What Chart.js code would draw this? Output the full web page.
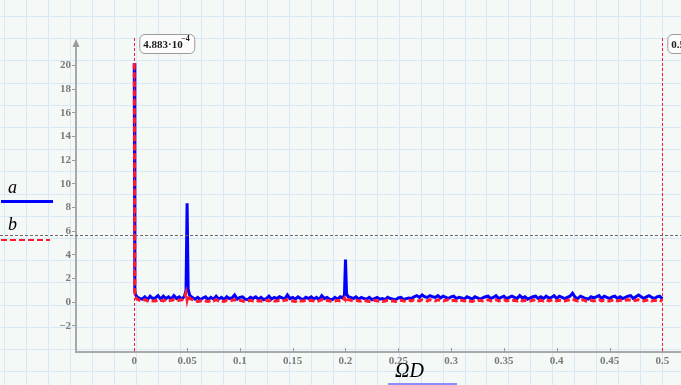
<!DOCTYPE html>
<html>
<head>
<meta charset="utf-8">
<script src="https://cdn.jsdelivr.net/npm/chart.js@4"></script>
<style>
  html, body { margin: 0; padding: 0; background: #f4f8f6; }
  #wrap { width: 681px; height: 385px; position: relative; }
</style>
</head>
<body>
<div id="wrap"><canvas id="chart"></canvas></div>
<script>
// frequency axis (ΩD)
const freq = [
  0, 0.0005, 0.001, 0.0025, 0.005, 0.0075, 0.01, 0.0125, 0.015, 0.0175,
  0.02, 0.0225, 0.025, 0.0275, 0.03, 0.0325, 0.035, 0.0375, 0.04, 0.0425,
  0.045, 0.0475, 0.049, 0.05, 0.051, 0.0525, 0.055, 0.0575, 0.06, 0.0625,
  0.065, 0.0675, 0.07, 0.0725, 0.075, 0.0775, 0.08, 0.0825, 0.085, 0.0875,
  0.09, 0.0925, 0.095, 0.0975, 0.1, 0.1025, 0.105, 0.1075, 0.11, 0.1125,
  0.115, 0.1175, 0.12, 0.1225, 0.125, 0.1275, 0.13, 0.1325, 0.135, 0.1375,
  0.14, 0.1425, 0.145, 0.1475, 0.15, 0.1525, 0.155, 0.1575, 0.16, 0.1625,
  0.165, 0.1675, 0.17, 0.1725, 0.175, 0.1775, 0.18, 0.1825, 0.185, 0.1875,
  0.19, 0.1925, 0.195, 0.1975, 0.199, 0.2, 0.201, 0.2025, 0.205, 0.2075,
  0.21, 0.2125, 0.215, 0.2175, 0.22, 0.2225, 0.225, 0.2275, 0.23, 0.2325,
  0.235, 0.2375, 0.24, 0.2425, 0.245, 0.2475, 0.25, 0.2525, 0.255, 0.2575,
  0.26, 0.2625, 0.265, 0.2675, 0.27, 0.2725, 0.275, 0.2775, 0.28, 0.2825,
  0.285, 0.2875, 0.29, 0.2925, 0.295, 0.2975, 0.3, 0.3025, 0.305, 0.3075,
  0.31, 0.3125, 0.315, 0.3175, 0.32, 0.3225, 0.325, 0.3275, 0.33, 0.3325,
  0.335, 0.3375, 0.34, 0.3425, 0.345, 0.3475, 0.35, 0.3525, 0.355, 0.3575,
  0.36, 0.3625, 0.365, 0.3675, 0.37, 0.3725, 0.375, 0.3775, 0.38, 0.3825,
  0.385, 0.3875, 0.39, 0.3925, 0.395, 0.3975, 0.4, 0.4025, 0.405, 0.4075,
  0.41, 0.4125, 0.415, 0.4175, 0.42, 0.4225, 0.425, 0.4275, 0.43, 0.4325,
  0.435, 0.4375, 0.44, 0.4425, 0.445, 0.4475, 0.45, 0.4525, 0.455, 0.4575,
  0.46, 0.4625, 0.465, 0.4675, 0.47, 0.4725, 0.475, 0.4775, 0.48, 0.4825,
  0.485, 0.4875, 0.49, 0.4925, 0.495, 0.4975, 0.5
];

// series a (blue, solid)
const aVals = [
  20.2, 1.0, 0.65, 0.45, 0.3, 0.25, 0.45, 0.2, 0.5, 0.3,
  0.35, 0.55, 0.25, 0.5, 0.3, 0.45, 0.25, 0.55, 0.3, 0.45,
  0.25, 0.5, 1.0, 8.35, 1.1, 0.55, 0.4, 0.25, 0.4, 0.2,
  0.35, 0.45, 0.2, 0.4, 0.25, 0.5, 0.25, 0.4, 0.2, 0.45,
  0.3, 0.35, 0.6, 0.25, 0.4, 0.45, 0.25, 0.2, 0.4, 0.3,
  0.45, 0.25, 0.4, 0.2, 0.3, 0.5, 0.25, 0.4, 0.3, 0.45,
  0.35, 0.25, 0.6, 0.3, 0.4, 0.25, 0.45, 0.3, 0.2, 0.4,
  0.3, 0.45, 0.25, 0.4, 0.2, 0.55, 0.3, 0.4, 0.25, 0.2,
  0.4, 0.25, 0.45, 0.35, 0.6, 3.6, 0.7, 0.45, 0.4, 0.3,
  0.45, 0.25, 0.4, 0.3, 0.25, 0.4, 0.2, 0.3, 0.4, 0.25,
  0.3, 0.2, 0.4, 0.3, 0.25, 0.2, 0.35, 0.4, 0.2, 0.3,
  0.35, 0.3, 0.45, 0.55, 0.4, 0.6, 0.45, 0.4, 0.55, 0.45,
  0.4, 0.55, 0.35, 0.5, 0.4, 0.3, 0.45, 0.5, 0.3, 0.4,
  0.35, 0.25, 0.45, 0.35, 0.25, 0.45, 0.35, 0.25, 0.35, 0.45,
  0.5, 0.3, 0.4, 0.55, 0.3, 0.4, 0.5, 0.3, 0.4, 0.5,
  0.4, 0.3, 0.55, 0.35, 0.45, 0.25, 0.35, 0.45, 0.5, 0.3,
  0.45, 0.3, 0.5, 0.35, 0.4, 0.55, 0.3, 0.5, 0.4, 0.3,
  0.4, 0.5, 0.75, 0.4, 0.3, 0.5, 0.4, 0.3, 0.25, 0.45,
  0.35, 0.45, 0.55, 0.3, 0.5, 0.4, 0.3, 0.45, 0.5, 0.3,
  0.45, 0.3, 0.4, 0.5, 0.55, 0.3, 0.45, 0.6, 0.45, 0.3,
  0.45, 0.55, 0.4, 0.3, 0.45, 0.5, 0.3
];

// series b (red, dashed)
const bVals = [
  20.2, 0.9, 0.45, 0.25, 0.15, 0.1, 0.2, 0.1, 0.15, 0.1,
  0.1, 0.2, 0.15, 0.1, 0.2, 0.1, 0.15, 0.2, 0.1, 0.15,
  0.2, 0.35, 0.8, 0.2, 0.6, 0.3, 0.2, 0.1, 0.05, 0.1,
  0.15, 0.1, 0.05, 0.15, 0.1, 0.2, 0.1, 0.1, 0.05, 0.15,
  0.1, 0.15, 0.2, 0.1, 0.15, 0.1, 0.05, 0.1, 0.15, 0.1,
  0.15, 0.1, 0.1, 0.05, 0.15, 0.1, 0.2, 0.1, 0.1, 0.15,
  0.1, 0.15, 0.2, 0.1, 0.1, 0.05, 0.15, 0.1, 0.1, 0.15,
  0.1, 0.15, 0.1, 0.05, 0.1, 0.2, 0.1, 0.15, 0.1, 0.05,
  0.1, 0.15, 0.1, 0.1, 0.35, 0.2, 0.4, 0.2, 0.15, 0.1,
  0.15, 0.1, 0.1, 0.15, 0.1, 0.05, 0.1, 0.15, 0.1, 0.1,
  0.05, 0.1, 0.15, 0.1, 0.1, 0.05, 0.1, 0.15, 0.1, 0.1,
  0.15, 0.1, 0.2, 0.15, 0.1, 0.2, 0.15, 0.1, 0.2, 0.15,
  0.1, 0.2, 0.15, 0.1, 0.15, 0.2, 0.1, 0.15, 0.1, 0.2,
  0.15, 0.1, 0.15, 0.1, 0.05, 0.15, 0.1, 0.15, 0.1, 0.15,
  0.2, 0.1, 0.15, 0.2, 0.1, 0.15, 0.2, 0.1, 0.15, 0.1,
  0.15, 0.1, 0.2, 0.1, 0.15, 0.1, 0.1, 0.15, 0.2, 0.1,
  0.15, 0.1, 0.2, 0.1, 0.15, 0.2, 0.1, 0.15, 0.1, 0.1,
  0.15, 0.2, 0.25, 0.15, 0.1, 0.15, 0.2, 0.1, 0.1, 0.15,
  0.1, 0.15, 0.2, 0.1, 0.15, 0.1, 0.1, 0.15, 0.2, 0.1,
  0.15, 0.1, 0.15, 0.2, 0.15, 0.1, 0.15, 0.2, 0.15, 0.1,
  0.15, 0.2, 0.1, 0.15, 0.1, 0.15, 0.1
];

const xTicks = [0, 0.05, 0.1, 0.15, 0.2, 0.25, 0.3, 0.35, 0.4, 0.45, 0.5];
const yTicks = [-2, 0, 2, 4, 6, 8, 10, 12, 14, 16, 18, 20];

// Mathcad markers
const markerX = [0, 0.5];
const markerY = 5.64;

const SERIF = "'Liberation Serif', 'DejaVu Serif', serif";
const BLUE = '#0000ff';
const RED = '#ff1a2e';

// worksheet grid behind everything
const worksheet = {
  id: 'worksheet',
  beforeDraw(chart) {
    const ctx = chart.ctx;
    ctx.save();
    ctx.fillStyle = '#f4f8f6';
    ctx.fillRect(0, 0, chart.width, chart.height);
    ctx.strokeStyle = '#d9e8f6';
    ctx.lineWidth = 1;
    for (let x = 4.2; x < chart.width; x += 21.92) {
      ctx.beginPath();
      ctx.moveTo(Math.round(x) + 0.5, 0);
      ctx.lineTo(Math.round(x) + 0.5, chart.height);
      ctx.stroke();
    }
    for (let y = 16; y < chart.height; y += 22.2) {
      ctx.beginPath();
      ctx.moveTo(0, Math.round(y) + 0.5);
      ctx.lineTo(chart.width, Math.round(y) + 0.5);
      ctx.stroke();
    }
    ctx.restore();
  }
};

function markerBox(ctx, x, y, w, h) {
  ctx.beginPath();
  ctx.roundRect(x + 0.5, y + 0.5, w, h, 5);
  ctx.fillStyle = '#fbfcfb';
  ctx.fill();
  ctx.strokeStyle = '#9a9a9a';
  ctx.lineWidth = 1;
  ctx.stroke();
}

// markers, legend, axis arrow and title
const overlay = {
  id: 'overlay',
  afterDraw(chart) {
    const ctx = chart.ctx;
    const xs = chart.scales.x;
    const ys = chart.scales.y;
    const area = chart.chartArea;
    ctx.save();

    // x tick marks (inside)
    ctx.strokeStyle = '#9a9a9a';
    ctx.lineWidth = 1;
    xTicks.forEach(v => {
      const px = Math.round(xs.getPixelForValue(v)) + 0.5;
      ctx.beginPath();
      ctx.moveTo(px, area.bottom - 4);
      ctx.lineTo(px, area.bottom);
      ctx.stroke();
    });

    // y axis arrow
    ctx.fillStyle = '#9a9a9a';
    ctx.beginPath();
    ctx.moveTo(area.left, area.top - 3);
    ctx.lineTo(area.left - 3.5, area.top + 5);
    ctx.lineTo(area.left + 3.5, area.top + 5);
    ctx.closePath();
    ctx.fill();

    // vertical red markers
    ctx.strokeStyle = RED;
    ctx.lineWidth = 1;
    ctx.setLineDash([3, 2]);
    markerX.forEach(v => {
      const px = Math.round(xs.getPixelForValue(v)) + 0.5;
      ctx.beginPath();
      ctx.moveTo(px, 38);
      ctx.lineTo(px, area.bottom);
      ctx.stroke();
    });

    // horizontal marker
    const py = Math.round(ys.getPixelForValue(markerY)) + 0.5;
    ctx.strokeStyle = '#6a6a6a';
    ctx.setLineDash([3, 2]);
    ctx.beginPath();
    ctx.moveTo(0, py);
    ctx.lineTo(chart.width, py);
    ctx.stroke();
    ctx.setLineDash([]);

    // marker labels
    const x0 = xs.getPixelForValue(markerX[0]);
    markerBox(ctx, x0 + 5, 34, 55, 19);
    ctx.fillStyle = '#1a1a1a';
    ctx.textBaseline = 'alphabetic';
    ctx.font = 'bold 11px ' + SERIF;
    ctx.fillText('4.883\u00b710', x0 + 9, 48);
    ctx.font = 'bold 8px ' + SERIF;
    ctx.fillText('\u22124', x0 + 47, 41);
    const x1 = xs.getPixelForValue(markerX[1]);
    markerBox(ctx, x1 + 5, 34, 30, 19);
    ctx.fillStyle = '#1a1a1a';
    ctx.font = 'bold 11px ' + SERIF;
    ctx.fillText('0.5', x1 + 9, 48);

    // legend
    ctx.fillStyle = '#000';
    ctx.font = 'italic 18px ' + SERIF;
    ctx.fillText('a', 8, 193);
    ctx.fillText('b', 8, 230);
    ctx.strokeStyle = BLUE;
    ctx.lineWidth = 3;
    ctx.beginPath();
    ctx.moveTo(1, 201.5);
    ctx.lineTo(53, 201.5);
    ctx.stroke();
    ctx.strokeStyle = RED;
    ctx.lineWidth = 2;
    ctx.setLineDash([6, 3]);
    ctx.beginPath();
    ctx.moveTo(1, 240);
    ctx.lineTo(50, 240);
    ctx.stroke();
    ctx.setLineDash([]);

    // x axis title
    ctx.fillStyle = '#000';
    ctx.font = 'italic 20px ' + SERIF;
    ctx.fillText('\u03a9D', 395, 377);
    ctx.fillStyle = '#8c8cff';
    ctx.fillRect(388, 383, 69, 2);

    ctx.restore();
  }
};

const tickFont = { family: SERIF, size: 11, weight: 'bold' };

new Chart(document.getElementById('chart'), {
  type: 'line',
  data: {
    datasets: [
      {
        label: 'a',
        data: freq.map((x, i) => ({ x: x, y: aVals[i] })),
        borderColor: BLUE,
        borderWidth: 3,
        pointRadius: 0,
        tension: 0,
        order: 2
      },
      {
        label: 'b',
        data: freq.map((x, i) => ({ x: x, y: bVals[i] })),
        borderColor: RED,
        borderWidth: 3,
        borderDash: [6, 3],
        pointRadius: 0,
        tension: 0,
        order: 1
      }
    ]
  },
  options: {
    responsive: true,
    maintainAspectRatio: false,
    animation: false,
    layout: { padding: { top: 42, right: 0, bottom: 0, left: 0 } },
    plugins: {
      legend: { display: false },
      tooltip: { enabled: false }
    },
    scales: {
      x: {
        type: 'linear',
        min: -0.0552,
        max: 0.5177,
        afterBuildTicks: s => { s.ticks = xTicks.map(v => ({ value: v })); },
        afterFit: s => { s.height = 33; },
        grid: { display: false, drawTicks: false },
        border: { display: true, color: '#a8a8a8', width: 2 },
        ticks: {
          color: '#7a7a7a',
          font: tickFont,
          padding: 3,
          maxRotation: 0,
          autoSkip: false,
          callback: v => String(v)
        }
      },
      y: {
        min: -4.22,
        max: 22,
        afterBuildTicks: s => { s.ticks = yTicks.map(v => ({ value: v })); },
        afterFit: s => { s.width = 76; },
        grid: { display: true, drawOnChartArea: false, drawTicks: true, tickLength: 4, color: '#9a9a9a' },
        border: { display: true, color: '#a8a8a8', width: 2 },
        ticks: {
          color: '#7a7a7a',
          font: tickFont,
          padding: 1,
          autoSkip: false,
          callback: v => (v < 0 ? '\u2212' + Math.abs(v) : String(v))
        }
      }
    }
  },
  plugins: [worksheet, overlay]
});
</script>
</body>
</html>
